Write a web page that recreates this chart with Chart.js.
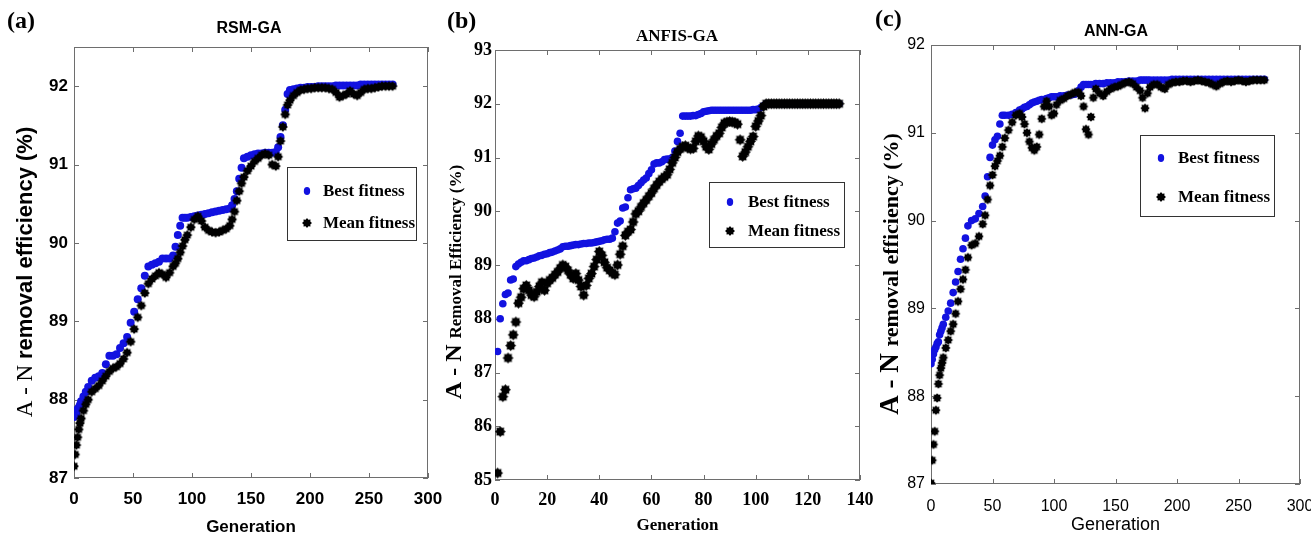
<!DOCTYPE html>
<html>
<head>
<meta charset="utf-8">
<title>GA convergence – RSM-GA, ANFIS-GA, ANN-GA</title>
<script src="https://cdn.jsdelivr.net/npm/chart.js@4.4.1/dist/chart.umd.min.js"></script>
<style>
  html, body { margin: 0; padding: 0; background: #fff; }
  #wrap { position: relative; width: 1311px; height: 537px; overflow: hidden; }
  #wrap canvas { position: absolute; top: 0; }
</style>
</head>
<body>
<div id="wrap">
  <canvas id="chartA" width="460" height="537" style="left:0"></canvas>
  <canvas id="chartB" width="450" height="537" style="left:440px"></canvas>
  <canvas id="chartC" width="441" height="537" style="left:870px"></canvas>
</div>
<script>
// ---- data ----
const seriesNames = ['Best fitness', 'Mean fitness'];

// (a) RSM-GA
const genA = [0,1,2,3,4,5,6,8,10,
  12,15,18,21,24,27,30,33,36,39,42,45,48,51,54,57,60,63,66,69,72,75,78,81,84,
  86,88,90,92,94,
  96,99,102,105,108,111,114,117,120,123,126,129,132,
  134,136,138,140,142,144,
  147,150,153,156,159,162,165,168,171,
  173,175,177,179,181,183,
  186,189,192,195,198,201,204,207,210,213,216,219,222,225,228,231,234,237,240,243,246,249,252,255,258,261,264,267,270];
const bestA = [87.78,87.80,87.82,87.88,87.90,87.93,87.98,88.04,88.10,
  88.16,88.24,88.28,88.30,88.34,88.45,88.56,88.56,88.58,88.66,88.72,88.80,88.98,89.12,89.28,89.42,89.58,89.70,89.72,89.74,89.76,89.80,89.80,89.80,89.84,
  89.95,90.10,90.22,90.32,90.32,
  90.32,90.33,90.34,90.35,90.36,90.37,90.38,90.39,90.40,90.41,90.42,90.43,90.44,
  90.48,90.56,90.66,90.82,90.96,91.08,
  91.10,91.12,91.13,91.14,91.14,91.15,91.15,91.15,91.16,
  91.22,91.35,91.50,91.70,91.90,91.95,
  91.96,91.97,91.98,91.98,91.99,91.99,91.99,92.00,92.00,92.00,92.00,92.00,92.01,92.01,92.01,92.01,92.01,92.01,92.01,92.02,92.02,92.02,92.02,92.02,92.02,92.02,92.02,92.02,92.02];
const meanA = [87.15,87.30,87.42,87.52,87.62,87.70,87.76,87.86,87.94,
  88.00,88.10,88.14,88.18,88.24,88.30,88.36,88.40,88.42,88.46,88.52,88.60,88.74,88.90,89.05,89.20,89.36,89.48,89.54,89.58,89.62,89.60,89.56,89.62,89.70,
  89.74,89.80,89.88,89.96,90.04,
  90.10,90.20,90.30,90.34,90.28,90.20,90.16,90.14,90.13,90.14,90.16,90.18,90.22,
  90.30,90.40,90.54,90.66,90.76,90.84,
  90.92,90.98,91.04,91.08,91.12,91.14,91.12,91.00,90.98,
  91.10,91.30,91.48,91.64,91.76,91.82,
  91.88,91.92,91.95,91.96,91.97,91.97,91.98,91.98,91.98,91.98,91.97,91.96,91.92,91.86,91.88,91.90,91.94,91.90,91.88,91.92,91.96,91.97,91.97,91.98,91.99,92.00,92.00,92.00,92.00];

// (b) ANFIS-GA
const genB = [1,2,3,4,5,6,7,8,9,10,11,12,13,14,15,16,17,18,19,20,
  21,22,23,24,25,26,27,28,29,30,31,32,33,34,35,36,37,38,39,40,
  41,42,43,44,45,46,47,48,49,50,51,52,53,54,55,56,57,58,59,60,
  61,62,63,64,65,66,67,68,69,70,71,72,73,74,75,76,77,78,79,80,
  81,82,83,84,85,86,87,88,89,90,91,92,93,94,95,96,97,98,99,100,
  101,102,103,104,105,106,107,108,109,110,111,112,113,114,115,116,117,118,119,120,
  121,122,123,124,125,126,127,128,129,130,131,132];
const bestB = [87.39,88.00,88.28,88.45,88.48,88.72,88.74,88.97,89.02,89.05,
  89.08,89.08,89.10,89.12,89.13,89.15,89.17,89.18,89.20,89.21,
  89.23,89.24,89.26,89.28,89.30,89.34,89.35,89.35,89.36,89.37,
  89.38,89.38,89.39,89.40,89.40,89.41,89.41,89.42,89.43,89.44,
  89.45,89.47,89.48,89.48,89.50,89.62,89.78,89.82,90.06,90.08,
  90.25,90.40,90.42,90.43,90.48,90.53,90.58,90.62,90.70,90.77,
  90.88,90.90,90.90,90.92,90.96,90.97,90.97,91.00,91.12,91.30,
  91.45,91.77,91.77,91.77,91.77,91.78,91.78,91.80,91.82,91.85,
  91.86,91.87,91.88,91.88,91.88,91.88,91.88,91.88,91.88,91.88,
  91.88,91.88,91.88,91.88,91.88,91.88,91.88,91.88,91.89,91.89,
  91.90,91.93,91.96,92.00,92.00,92.00,92.00,92.00,92.00,92.00,
  92.00,92.00,92.00,92.00,92.00,92.00,92.00,92.00,92.00,92.00,
  92.00,92.00,92.00,92.00,92.00,92.00,92.00,92.00,92.00,92.00,
  92.00,92.00];
const meanB = [85.13,85.90,86.55,86.68,87.27,87.50,87.70,87.94,88.29,88.40,
  88.56,88.62,88.53,88.44,88.41,88.50,88.60,88.68,88.53,88.66,
  88.72,88.76,88.82,88.87,88.94,89.00,88.97,88.90,88.82,88.75,
  88.84,88.72,88.60,88.44,88.62,88.75,88.84,88.97,89.10,89.25,
  89.18,89.05,88.95,88.90,88.85,88.82,89.00,89.20,89.35,89.55,
  89.62,89.66,89.80,89.95,90.00,90.08,90.15,90.21,90.28,90.34,
  90.42,90.49,90.55,90.60,90.64,90.68,90.78,90.90,91.00,91.10,
  91.16,91.20,91.22,91.18,91.16,91.17,91.30,91.40,91.38,91.30,
  91.20,91.15,91.25,91.33,91.40,91.45,91.56,91.64,91.66,91.67,
  91.66,91.65,91.62,91.33,91.02,91.10,91.20,91.30,91.39,91.58,
  91.68,91.78,91.95,92.00,92.00,92.00,92.00,92.00,92.00,92.00,
  92.00,92.00,92.00,92.00,92.00,92.00,92.00,92.00,92.00,92.00,
  92.00,92.00,92.00,92.00,92.00,92.00,92.00,92.00,92.00,92.00,
  92.00,92.00];

// (c) ANN-GA
const genC = [0,1,2,3,4,5,6,7,8,9,10,
  12,14,16,18,20,22,24,26,28,30,
  33,36,39,42,
  44,46,48,50,52,54,56,58,60,
  63,66,69,
  72,74,76,78,80,82,84,86,88,90,92,94,96,98,100,
  102,105,108,111,114,117,120,
  122,124,126,128,130,132,134,
  137,140,143,146,149,152,155,158,161,164,167,170,
  172,174,176,178,
  181,184,187,190,193,196,199,202,205,208,211,214,217,220,223,226,229,232,235,238,241,244,247,250,253,256,259,262,265,268,271];
const bestC = [88.37,88.42,88.48,88.53,88.56,88.60,88.62,88.70,88.74,88.78,88.82,
  88.90,88.97,89.06,89.18,89.30,89.42,89.56,89.68,89.80,89.94,
  90.00,90.02,90.08,90.16,
  90.28,90.50,90.72,90.86,90.92,90.96,91.10,91.20,91.20,
  91.20,91.21,91.23,
  91.26,91.27,91.29,91.30,91.32,91.34,91.35,91.36,91.37,91.38,91.38,91.39,91.40,91.41,91.41,
  91.41,91.42,91.42,91.43,91.43,91.44,91.48,
  91.52,91.55,91.55,91.55,91.55,91.55,91.56,
  91.56,91.56,91.57,91.57,91.57,91.58,91.58,91.58,91.59,91.59,91.59,91.60,
  91.60,91.60,91.60,91.60,
  91.60,91.60,91.60,91.60,91.60,91.61,91.61,91.61,91.61,91.61,91.61,91.61,91.61,91.61,91.61,91.61,91.61,91.61,91.61,91.61,91.61,91.61,91.61,91.61,91.61,91.61,91.61,91.61,91.61,91.61,91.61];
const meanC = [87.01,87.27,87.45,87.60,87.84,87.98,88.14,88.24,88.32,88.38,88.44,
  88.55,88.64,88.74,88.82,88.94,89.08,89.22,89.33,89.44,89.58,
  89.72,89.74,89.82,89.96,
  90.06,90.24,90.40,90.52,90.62,90.68,90.74,90.84,90.94,
  91.03,91.12,91.20,
  91.22,91.18,91.10,91.00,90.90,90.83,90.80,90.84,90.98,91.16,91.30,91.36,91.30,91.20,91.22,
  91.32,91.37,91.39,91.42,91.44,91.46,91.46,
  91.42,91.30,91.04,90.98,91.18,91.40,91.50,
  91.45,91.42,91.47,91.50,91.52,91.53,91.55,91.57,91.58,91.56,91.52,91.48,
  91.40,91.28,91.45,91.52,
  91.55,91.55,91.52,91.50,91.55,91.57,91.58,91.58,91.59,91.59,91.58,91.59,91.60,91.59,91.58,91.57,91.55,91.53,91.56,91.58,91.59,91.58,91.59,91.60,91.59,91.58,91.59,91.60,91.60,91.60,91.60];

// ---- styling ----
const BLUE = '#1212e0';
const SANS = '"Liberation Sans", Arial, sans-serif';
const SERIF = '"Liberation Serif", "Times New Roman", serif';

// filled spiky marker, like matlab's hexagram blobs
function starMarker(r) {
  const s = Math.ceil(r * 2 + 2);
  const c = document.createElement('canvas');
  c.width = s; c.height = s;
  const g = c.getContext('2d');
  g.translate(s / 2, s / 2);
  g.fillStyle = '#000';
  g.beginPath();
  for (let i = 0; i < 16; i++) {
    const rr = i % 2 ? r * 0.72 : r;
    const a = Math.PI * i / 8;
    g.lineTo(Math.cos(a) * rr, Math.sin(a) * rr);
  }
  g.closePath();
  g.fill();
  return c;
}

// frame + inward ticks, legend box, title, panel letter, mixed-font y label
const panelDecor = {
  id: 'panelDecor',
  beforeDatasetsDraw(chart, args, o) {
    const { ctx, chartArea: a, scales: { x, y } } = chart;
    ctx.save();
    ctx.strokeStyle = o.frameColor;
    ctx.lineWidth = 1;
    ctx.strokeRect(a.left + 0.5, a.top + 0.5, a.right - a.left - 1, a.bottom - a.top - 1);
    ctx.beginPath();
    x.ticks.forEach(t => {
      const px = Math.round(x.getPixelForValue(t.value)) + 0.5;
      ctx.moveTo(px, a.bottom); ctx.lineTo(px, a.bottom - o.tickLen);
      ctx.moveTo(px, a.top); ctx.lineTo(px, a.top + o.tickLen);
    });
    y.ticks.forEach(t => {
      if (!Number.isInteger(t.value)) return;
      const py = Math.round(y.getPixelForValue(t.value)) + 0.5;
      ctx.moveTo(a.left, py); ctx.lineTo(a.left + o.tickLen, py);
      ctx.moveTo(a.right, py); ctx.lineTo(a.right - o.tickLen, py);
    });
    ctx.stroke();
    ctx.restore();
  },
  afterDatasetsDraw(chart, args, o) {
    const { ctx } = chart;
    const L = o.legend;
    ctx.save();
    ctx.fillStyle = '#fff';
    ctx.fillRect(L.x, L.y, L.w, L.h);
    ctx.strokeStyle = '#333';
    ctx.lineWidth = 1;
    ctx.strokeRect(L.x + 0.5, L.y + 0.5, L.w, L.h);
    ctx.font = L.font;
    ctx.textBaseline = 'middle';
    ctx.textAlign = 'left';
    chart.data.datasets.forEach((ds, i) => {
      const cy = L.y + L.rows[i];
      const mx = L.x + L.mx;
      if (typeof ds.pointStyle === 'object') {
        const img = starMarker(L.starR);
        ctx.drawImage(img, mx - img.width / 2, cy - img.height / 2);
      } else {
        ctx.fillStyle = ds.backgroundColor;
        ctx.beginPath();
        ctx.ellipse(mx, cy, L.dotR * 0.8, L.dotR, 0, 0, Math.PI * 2);
        ctx.fill();
      }
      ctx.fillStyle = '#000';
      ctx.fillText(ds.label, L.x + L.tx, cy + 1);
    });
    ctx.restore();
  },
  afterDraw(chart, args, o) {
    const { ctx } = chart;
    ctx.save();
    ctx.fillStyle = '#000';
    ctx.textBaseline = 'middle';
    ctx.textAlign = 'center';
    ctx.font = o.title.font;
    ctx.fillText(o.title.text, o.title.x, o.title.y);
    ctx.textAlign = 'left';
    ctx.font = o.letter.font;
    ctx.fillText(o.letter.text, o.letter.x, o.letter.y);

    // rotated y label made of differently styled parts
    const yl = o.yLabel;
    ctx.translate(yl.x, yl.y);
    ctx.rotate(-Math.PI / 2);
    ctx.textBaseline = 'alphabetic';
    let total = 0;
    const widths = yl.parts.map(p => { ctx.font = p.font; const w = ctx.measureText(p.text).width; total += w; return w; });
    let cx = -total / 2;
    yl.parts.forEach((p, i) => { ctx.font = p.font; ctx.fillText(p.text, cx, 0); cx += widths[i]; });
    ctx.restore();
  }
};

function makeChart(id, c) {
  return new Chart(document.getElementById(id), {
    type: 'scatter',
    data: {
      datasets: [
        {
          label: seriesNames[0],
          data: c.gens.map((g, i) => ({ x: g, y: c.best[i] })),
          pointStyle: 'circle',
          pointRadius: c.bestR,
          backgroundColor: BLUE,
          borderWidth: 0,
          order: 2
        },
        {
          label: seriesNames[1],
          data: c.gens.map((g, i) => ({ x: g, y: c.mean[i] })),
          pointStyle: starMarker(c.meanR),
          pointRadius: c.meanR,
          backgroundColor: '#000',
          borderWidth: 0,
          order: 1
        }
      ]
    },
    options: {
      responsive: false,
      animation: false,
      events: [],
      layout: { padding: c.padding },
      plugins: {
        legend: { display: false },
        tooltip: { enabled: false },
        panelDecor: c.decor
      },
      scales: {
        x: {
          type: 'linear',
          min: c.xMin, max: c.xMax,
          ticks: { stepSize: c.xStep, font: c.tickFont, color: '#000', padding: c.xTickPad, maxRotation: 0, autoSkip: false },
          grid: { display: false, drawTicks: false },
          border: { display: false },
          title: { display: true, text: 'Generation', font: c.xTitleFont, color: '#000', padding: { top: 0, bottom: c.xTitlePad } },
          // fixed box; first/last labels may overhang the plot edges
          afterFit: s => { s.height = c.xH; s.paddingLeft = 0; s.paddingRight = 0; }
        },
        y: {
          type: 'linear',
          min: c.yMin, max: c.yMax,
          ticks: { stepSize: 1, font: c.tickFont, color: '#000', padding: c.yTickPad,
                   callback: v => Number.isInteger(v) ? v : '' },
          grid: { display: false, drawTicks: false },
          border: { display: false },
          afterFit: s => { s.width = c.yW; s.paddingTop = 0; s.paddingBottom = 0; }
        }
      }
    },
    plugins: [panelDecor]
  });
}

makeChart('chartA', {
  gens: genA, best: bestA, mean: meanA, bestR: 4, meanR: 5,
  xMin: 0, xMax: 300, xStep: 50, yMin: 87, yMax: 92.5,
  padding: { top: 47, right: 32, left: 0, bottom: 0 }, yW: 74, xH: 59,
  tickFont: { family: SANS, size: 17, weight: 'bold', lineHeight: 1 },
  xTickPad: 13, yTickPad: 6,
  xTitleFont: { family: SANS, size: 17, weight: 'bold', lineHeight: 1 }, xTitlePad: 1,
  decor: {
    frameColor: '#6e6e6e', tickLen: 5,
    legend: { x: 287, y: 167, w: 129, h: 73, rows: [24, 56], mx: 20, tx: 36, dotR: 4, starR: 5, font: 'bold 17px ' + SERIF },
    title: { text: 'RSM-GA', font: 'bold 16px ' + SANS, x: 249, y: 29 },
    letter: { text: '(a)', font: 'bold 24px ' + SERIF, x: 7, y: 22 },
    yLabel: { x: 32, y: 272, parts: [
      { text: 'A - N ', font: 'normal 23px ' + SERIF },
      { text: 'removal efficiency (%)', font: 'bold 22px ' + SANS }
    ] }
  }
});

makeChart('chartB', {
  gens: genB, best: bestB, mean: meanB, bestR: 3.8, meanR: 5.5,
  xMin: 0, xMax: 140, xStep: 20, yMin: 85, yMax: 93,
  padding: { top: 50, right: 30, left: 0, bottom: 0 }, yW: 55, xH: 57,
  tickFont: { family: SERIF, size: 18, weight: 'bold', lineHeight: 1 },
  xTickPad: 11, yTickPad: 3,
  xTitleFont: { family: SERIF, size: 17, weight: 'bold', lineHeight: 1 }, xTitlePad: 3,
  decor: {
    frameColor: '#6e6e6e', tickLen: 5,
    legend: { x: 269, y: 182, w: 135, h: 65, rows: [20, 49], mx: 21, tx: 39, dotR: 4, starR: 5, font: 'bold 17px ' + SERIF },
    title: { text: 'ANFIS-GA', font: 'bold 17px ' + SERIF, x: 237, y: 37 },
    letter: { text: '(b)', font: 'bold 24px ' + SERIF, x: 7, y: 22 },
    yLabel: { x: 21, y: 282, parts: [
      { text: 'A - N ', font: 'bold 24px ' + SERIF },
      { text: 'Removal Efficiency (%)', font: 'bold 17px ' + SERIF }
    ] }
  }
});

makeChart('chartC', {
  gens: genC, best: bestC, mean: meanC, bestR: 3.8, meanR: 4.8,
  xMin: 0, xMax: 300, xStep: 50, yMin: 87, yMax: 92,
  padding: { top: 45, right: 11, left: 0, bottom: 0 }, yW: 61, xH: 53,
  tickFont: { family: SANS, size: 16, weight: 'normal', lineHeight: 1 },
  xTickPad: 15, yTickPad: 6,
  xTitleFont: { family: SANS, size: 18, weight: 'normal', lineHeight: 1 }, xTitlePad: 3,
  decor: {
    frameColor: '#6e6e6e', tickLen: 5,
    legend: { x: 270, y: 135, w: 134, h: 81, rows: [23, 62], mx: 21, tx: 38, dotR: 4, starR: 5, font: 'bold 17px ' + SERIF },
    title: { text: 'ANN-GA', font: 'bold 16px ' + SANS, x: 246, y: 32 },
    letter: { text: '(c)', font: 'bold 24px ' + SERIF, x: 5, y: 20 },
    yLabel: { x: 28, y: 274, parts: [
      { text: 'A - N ', font: 'bold 27px ' + SERIF },
      { text: 'removal efficiency (%)', font: 'bold 22px ' + SERIF }
    ] }
  }
});
</script>
</body>
</html>
